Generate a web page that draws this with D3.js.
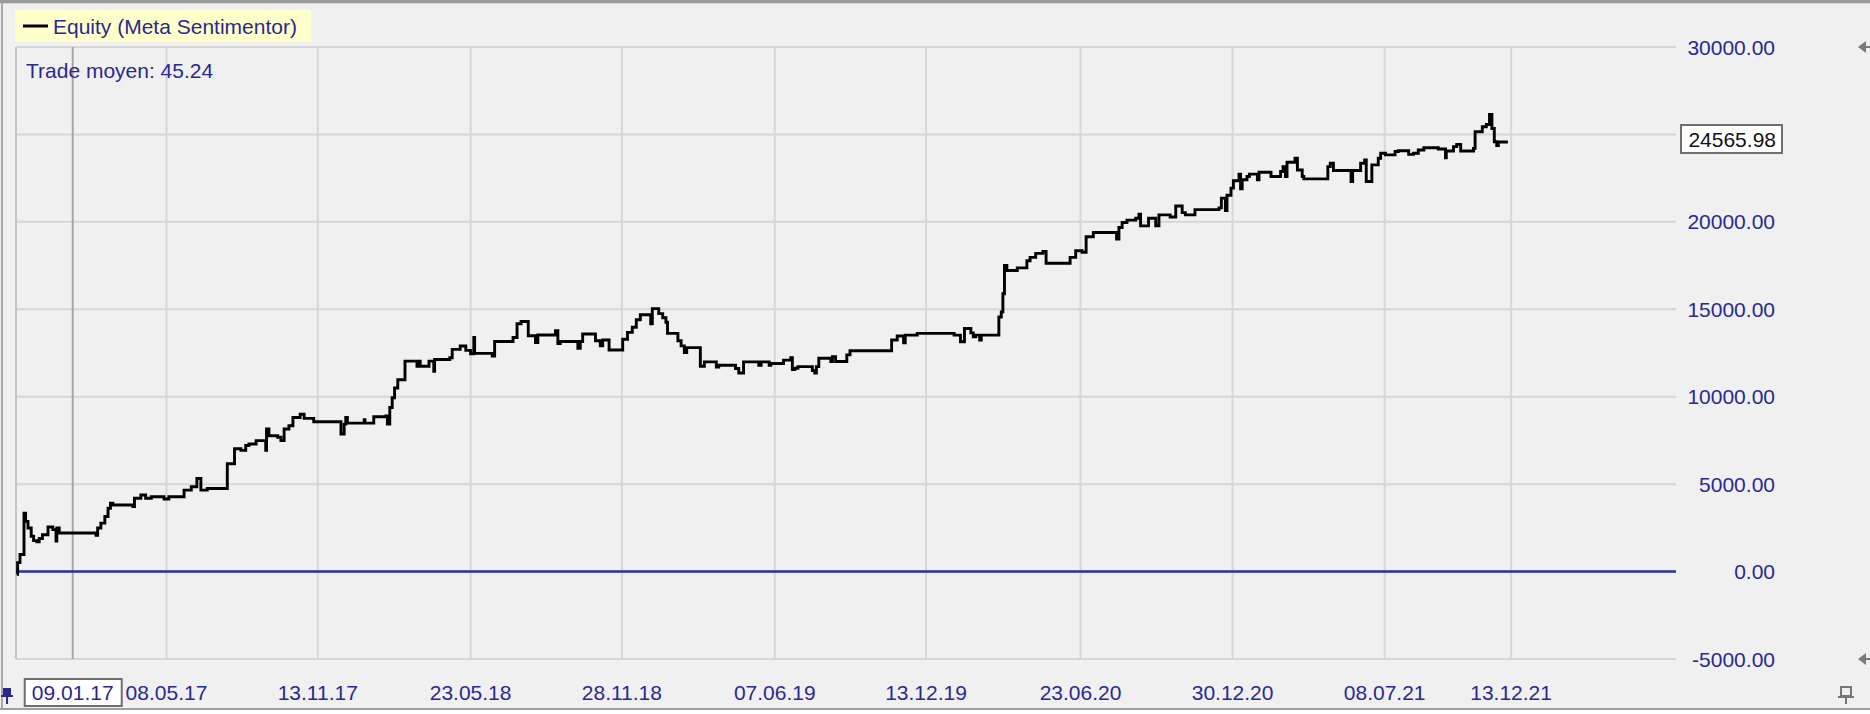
<!DOCTYPE html>
<html>
<head>
<meta charset="utf-8">
<script src="https://cdn.jsdelivr.net/npm/d3@7"></script>
<style>
  html, body { margin: 0; padding: 0; background: #f0f0f0; overflow: hidden; }
  svg { display: block; font-family: "Liberation Sans", Arial, sans-serif; }
</style>
</head>
<body>
<div id="chart"></div>
<script>
// x range of the chart, in dd.mm.yy like the platform prints it
const startDate = '01.11.16';
const endDate = '07.07.22';
const tickLabels = ['08.05.17', '13.11.17', '23.05.18', '28.11.18', '07.06.19',
  '13.12.19', '23.06.20', '30.12.20', '08.07.21', '13.12.21'];
const cursorLabel = '09.01.17';
const yTicks = [-5000, 0, 5000, 10000, 15000, 20000, 25000, 30000];

const legendTitle = 'Equity (Meta Sentimentor)';
const avgTradeText = 'Trade moyen: 45.24';

// equity curve : days since startDate / equity value
const equityDays = [
  1, 2, 5, 9, 10, 12, 15, 19, 22, 26, 29, 33, 40, 46, 50, 51, 54, 100, 102, 106,
  111, 115, 118, 121, 146, 148, 156, 162, 169, 185, 191, 210, 219, 226, 231, 239, 264, 273, 281, 287,
  291, 300, 312, 313, 316, 327, 331, 335, 341, 346, 355, 360, 372, 406, 410, 412, 414, 435, 436, 447,
  462, 464, 467, 470, 473, 477, 486, 501, 502, 505, 516, 522, 523, 542, 545, 555, 562, 568, 572, 573,
  595, 598, 621, 626, 631, 640, 649, 652, 674, 677, 680, 702, 705, 708, 724, 730, 733, 741, 758, 764,
  770, 775, 780, 793, 795, 803, 808, 812, 814, 827, 831, 835, 838, 855, 860, 875, 878, 899, 903, 909,
  928, 931, 941, 943, 959, 968, 970, 973, 977, 995, 998, 1000, 1003, 1018, 1020, 1024, 1038, 1042, 1094, 1101,
  1109, 1111, 1126, 1172, 1180, 1185, 1193, 1196, 1199, 1204, 1206, 1228, 1231, 1233, 1235, 1238, 1251, 1263, 1267, 1274,
  1283, 1287, 1317, 1324, 1332, 1337, 1346, 1375, 1378, 1382, 1388, 1399, 1403, 1405, 1415, 1424, 1428, 1442, 1449, 1457,
  1461, 1473, 1503, 1506, 1511, 1513, 1518, 1521, 1528, 1530, 1532, 1538, 1541, 1551, 1553, 1568, 1580, 1583, 1586, 1588,
  1598, 1601, 1607, 1609, 1639, 1642, 1646, 1668, 1670, 1680, 1685, 1687, 1694, 1702, 1705, 1711, 1723, 1727, 1740, 1746,
  1752, 1759, 1777, 1786, 1787, 1796, 1800, 1805, 1821, 1823, 1832, 1837, 1841, 1844, 1847, 1850, 1852, 1864
];
const equityValues = [
  -150, 510, 980, 980, 3340, 2870, 2490, 2020, 1770, 1700, 1890, 2110, 2550, 2400, 1740, 2490, 2210, 2080, 2490, 2770,
  3150, 3620, 3910, 3810, 3720, 4190, 4380, 4190, 4280, 4150, 4280, 4660, 4850, 5320, 4660, 4750, 6170, 7020, 6930, 7210,
  7300, 7490, 6930, 8150, 7770, 7680, 7490, 8150, 8340, 8810, 9000, 8760, 8570, 7870, 8430, 8810, 8490, 8680, 8490, 8850,
  8900, 8430, 9380, 9940, 10500, 10970, 12035, 11740, 12035, 11740, 12035, 11450, 12130, 12230, 12710, 12900, 12650, 12460, 13390, 12480,
  12330, 13160, 13390, 14170, 14300, 13490, 13100, 13530, 13780, 13040, 13160, 12770, 13160, 13590, 13200, 12910, 13240, 12670, 13290, 13680,
  13970, 14400, 14690, 14170, 15040, 14750, 14520, 14260, 13620, 13200, 12910, 12520, 12810, 11740, 11995, 11690, 11800, 11610, 11360, 11995,
  11800, 11995, 11800, 11900, 12090, 12230, 11550, 11630, 11720, 11500, 11350, 11720, 12200, 12010, 12290, 12010, 12390, 12630, 13240, 13470,
  13090, 13520, 13620, 13520, 13140, 13900, 13650, 13430, 13520, 13240, 13520, 14560, 14850, 15890, 17500, 17220, 17370, 17780, 17970, 18200,
  18310, 17630, 17970, 18350, 18260, 19150, 19390, 19020, 19680, 19960, 20100, 20210, 20440, 19770, 20210, 19770, 20400, 20280, 20910, 20530,
  20400, 20700, 20800, 21360, 20640, 21520, 21930, 22350, 22730, 21890, 22410, 22590, 22730, 22410, 22840, 22590, 22880, 23160, 22590, 23410,
  23640, 22970, 22590, 22460, 23160, 23350, 22940, 22310, 22940, 23350, 23540, 22310, 23260, 23640, 23920, 23830, 24020, 24070, 23860, 23920,
  24110, 24240, 24170, 23670, 24050, 24300, 24430, 24050, 24200, 25150, 25440, 25570, 26140, 25340, 24580, 24360, 24565.98, 24565.98
];

const width = 1870, height = 714;
const navy = '#29298f', gridColor = '#d6d6d6';
const parseDate = d3.timeParse('%d.%m.%y');
const t0 = parseDate(startDate);

const svg = d3.select('#chart')
  .append('svg')
  .attr('width', width)
  .attr('height', height);

svg.append('rect').attr('width', width).attr('height', height).attr('fill', '#f0f0f0');

const x = d3.scaleTime()
  .domain([t0, parseDate(endDate)])
  .range([16, 1676]);

const y = d3.scaleLinear()
  .domain([-5000, 30000])
  .range([659, 47]);

/* ------- FRAME ------- */
svg.append('rect').attr('x', 0).attr('y', 0).attr('width', width).attr('height', 3).attr('fill', '#9a9a9a');
svg.append('rect').attr('x', 0).attr('y', 3).attr('width', width).attr('height', 1).attr('fill', '#d8d8d8');
svg.append('rect').attr('x', 1).attr('y', 3).attr('width', 2).attr('height', 706).attr('fill', '#a9a9a9');
svg.append('rect').attr('x', 0).attr('y', 708).attr('width', width).attr('height', 2).attr('fill', '#a0a0a0');
svg.append('rect').attr('x', 0).attr('y', 710).attr('width', width).attr('height', 4).attr('fill', '#ffffff');

/* ------- GRID ------- */
const grid = svg.append('g');

grid.selectAll('line.h')
  .data(yTicks)
  .enter()
  .append('line')
  .attr('class', 'h')
  .attr('x1', x.range()[0])
  .attr('x2', x.range()[1])
  .attr('y1', (d) => y(d))
  .attr('y2', (d) => y(d))
  .attr('stroke', gridColor)
  .attr('stroke-width', 2);

grid.selectAll('line.v')
  .data(tickLabels)
  .enter()
  .append('line')
  .attr('class', 'v')
  .attr('x1', (d) => x(parseDate(d)))
  .attr('x2', (d) => x(parseDate(d)))
  .attr('y1', y(30000))
  .attr('y2', y(-5000))
  .attr('stroke', gridColor)
  .attr('stroke-width', 2);

// left edge of the plot
grid.append('line')
  .attr('x1', x.range()[0]).attr('x2', x.range()[0])
  .attr('y1', y(30000)).attr('y2', y(-5000))
  .attr('stroke', '#c4c4c4')
  .attr('stroke-width', 2);

// cursor line
const cursorX = x(parseDate(cursorLabel)) + 1.5;
grid.append('line')
  .attr('x1', cursorX).attr('x2', cursorX)
  .attr('y1', y(30000)).attr('y2', y(-5000))
  .attr('stroke', '#a6a6a6')
  .attr('stroke-width', 2);

// zero line
svg.append('line')
  .attr('x1', x.range()[0])
  .attr('x2', x.range()[1])
  .attr('y1', y(0))
  .attr('y2', y(0))
  .attr('stroke', '#2e2e9c')
  .attr('stroke-width', 2.5);

/* ------- Y LABELS ------- */
svg.selectAll('text.ylab')
  .data(yTicks)
  .enter()
  .append('text')
  .attr('class', 'ylab')
  .attr('x', 1775)
  .attr('y', (d) => y(d))
  .attr('dy', '0.36em')
  .attr('text-anchor', 'end')
  .attr('font-size', 21)
  .attr('fill', navy)
  .text((d) => d.toFixed(2));

// small arrows at the top and bottom of the scale
[30000, -5000].forEach((v) => {
  const cy = y(v);
  svg.append('path')
    .attr('d', `M1858,${cy} L1866,${cy - 6} L1866,${cy + 6} Z`)
    .attr('fill', '#7a7a7a');
  svg.append('line')
    .attr('x1', 1864).attr('x2', 1870)
    .attr('y1', cy).attr('y2', cy)
    .attr('stroke', '#7a7a7a')
    .attr('stroke-width', 2);
});

/* ------- X LABELS ------- */
svg.selectAll('text.xlab')
  .data(tickLabels)
  .enter()
  .append('text')
  .attr('class', 'xlab')
  .attr('x', (d) => x(parseDate(d)))
  .attr('y', 692)
  .attr('dy', '0.36em')
  .attr('text-anchor', 'middle')
  .attr('font-size', 21)
  .attr('fill', navy)
  .text((d) => d);

// cursor date box
svg.append('rect')
  .attr('x', cursorX - 48).attr('y', 679)
  .attr('width', 97).attr('height', 27)
  .attr('fill', '#ffffff')
  .attr('stroke', '#6e6e6e')
  .attr('stroke-width', 2);
svg.append('text')
  .attr('x', cursorX).attr('y', 692.5)
  .attr('dy', '0.36em')
  .attr('text-anchor', 'middle')
  .attr('font-size', 21)
  .attr('fill', navy)
  .text(cursorLabel);

/* ------- EQUITY LINE ------- */
const equity = equityDays.map((d, i) => ({
  date: d3.timeDay.offset(t0, d),
  value: equityValues[i],
}));

const line = d3.line()
  .x((d) => x(d.date))
  .y((d) => y(d.value))
  .curve(d3.curveStepAfter);

svg.append('path')
  .datum(equity)
  .attr('d', line)
  .attr('fill', 'none')
  .attr('stroke', '#000000')
  .attr('stroke-width', 2.9)
  .attr('stroke-linejoin', 'miter');

// last value box on the scale
const last = equity[equity.length - 1];
const lastY = y(last.value) - 3;
svg.append('rect')
  .attr('x', 1681).attr('y', lastY - 14)
  .attr('width', 101).attr('height', 28)
  .attr('fill', '#ffffff')
  .attr('stroke', '#6e6e6e')
  .attr('stroke-width', 2);
svg.append('text')
  .attr('x', 1776).attr('y', lastY)
  .attr('dy', '0.36em')
  .attr('text-anchor', 'end')
  .attr('font-size', 21)
  .attr('fill', '#111111')
  .text(last.value.toFixed(2));

/* ------- LEGEND ------- */
svg.append('rect')
  .attr('x', 15).attr('y', 10)
  .attr('width', 296).attr('height', 32)
  .attr('fill', '#ffffcc');
svg.append('line')
  .attr('x1', 23).attr('x2', 48)
  .attr('y1', 26).attr('y2', 26)
  .attr('stroke', '#000000')
  .attr('stroke-width', 3);
svg.append('text')
  .attr('x', 53).attr('y', 26)
  .attr('dy', '0.36em')
  .attr('font-size', 21)
  .attr('fill', navy)
  .text(legendTitle);

svg.append('text')
  .attr('x', 26).attr('y', 70)
  .attr('dy', '0.36em')
  .attr('font-size', 21)
  .attr('fill', navy)
  .text(avgTradeText);

/* ------- PINS ------- */
svg.append('rect').attr('x', 3).attr('y', 688).attr('width', 8).attr('height', 8).attr('fill', navy);
svg.append('line').attr('x1', 7).attr('x2', 7).attr('y1', 696).attr('y2', 704).attr('stroke', navy).attr('stroke-width', 2);
svg.append('line').attr('x1', 1).attr('x2', 13).attr('y1', 696).attr('y2', 696).attr('stroke', navy).attr('stroke-width', 2);

svg.append('rect').attr('x', 1841).attr('y', 687).attr('width', 10).attr('height', 9)
  .attr('fill', '#f0f0f0').attr('stroke', '#777777').attr('stroke-width', 2);
svg.append('line').attr('x1', 1838).attr('x2', 1854).attr('y1', 697).attr('y2', 697).attr('stroke', '#777777').attr('stroke-width', 2);
svg.append('line').attr('x1', 1846).attr('x2', 1846).attr('y1', 697).attr('y2', 704).attr('stroke', '#777777').attr('stroke-width', 2);
</script>
</body>
</html>
